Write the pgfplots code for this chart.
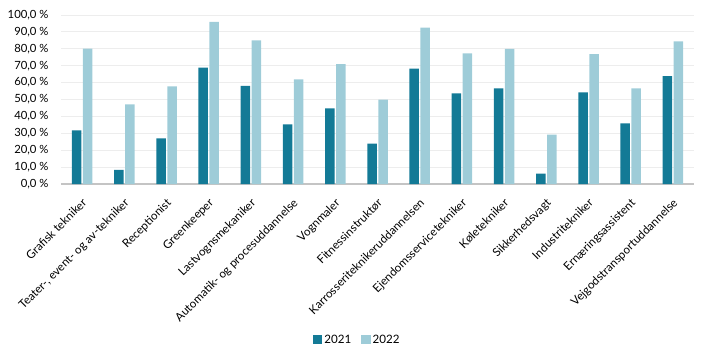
\documentclass[border=0pt]{standalone}
\usepackage{fontspec}
\setmainfont{Lato}
\usepackage{pgfplots}
\pgfplotsset{compat=1.18}
\definecolor{cA}{HTML}{137A96}
\definecolor{cB}{HTML}{9ECCD8}
\definecolor{gridc}{HTML}{EDEDED}
\definecolor{basec}{HTML}{C4C4C4}
\begin{document}
\begin{tikzpicture}[x=1pt,y=1pt]
\useasboundingbox (0,0) rectangle (709,359);
\begin{axis}[
  at={(61pt,175pt)}, anchor=south west,
  scale only axis, width=633pt, height=169pt,
  xmin=-0.5, xmax=14.5, ymin=0, ymax=100,
  axis x line*=bottom, axis y line*=left,
  x axis line style={basec, line width=1.3pt},
  y axis line style={draw=none},
  ytick={0,10,...,100},
  ymajorgrids, grid style={gridc, line width=0.8pt},
  major tick length=0pt,
  xtick={0,...,14},
  xticklabels={Grafisk tekniker,{Teater-, event- og av-tekniker},Receptionist,Greenkeeper,Lastvognsmekaniker,Automatik- og procesuddannelse,Vognmaler,Fitnessinstruktør,Karrosseriteknikeruddannelsen,Ejendomsservicetekniker,Køletekniker,Sikkerhedsvagt,Industritekniker,Ernæringsassistent,Vejgodstransportuddannelse},
  xticklabel style={rotate=45, anchor=north east, font=\fontsize{11.6}{13}\selectfont, inner sep=1pt, xshift=-9pt, yshift=-8pt},
  yticklabel={\pgfmathprintnumber[fixed,fixed zerofill,precision=1,use comma,assume math mode=true]{\tick}\ \%},
  yticklabel style={font=\fontsize{11.3}{13}\selectfont, anchor=east, xshift=-9pt},
  ybar, bar width=9.5pt,
  legend style={at={(0.468,-0.923)}, anchor=center, draw=none, legend columns=2, font=\fontsize{11.6}{13}\selectfont, /tikz/every even column/.append style={column sep=8pt}},
  legend image code/.code={\fill[#1] (0pt,-4.5pt) rectangle (9.5pt,5pt);},
]
\addplot[fill=cA, draw=none, bar shift=-5.5pt] coordinates {
(0,31.8) (1,8.3) (2,27.0) (3,68.8) (4,58.0) (5,35.3) (6,44.8) (7,23.9) (8,68.2) (9,53.6) (10,56.6) (11,6.1) (12,54.2) (13,35.9) (14,63.9)};
\addplot[fill=cB, draw=none, bar shift=5.5pt] coordinates {
(0,80.1) (1,47.1) (2,57.8) (3,95.9) (4,85.0) (5,61.9) (6,71.0) (7,49.9) (8,92.5) (9,77.3) (10,79.9) (11,29.2) (12,76.9) (13,56.6) (14,84.4)};
\legend{2021,2022}
\end{axis}
\end{tikzpicture}
\end{document}
